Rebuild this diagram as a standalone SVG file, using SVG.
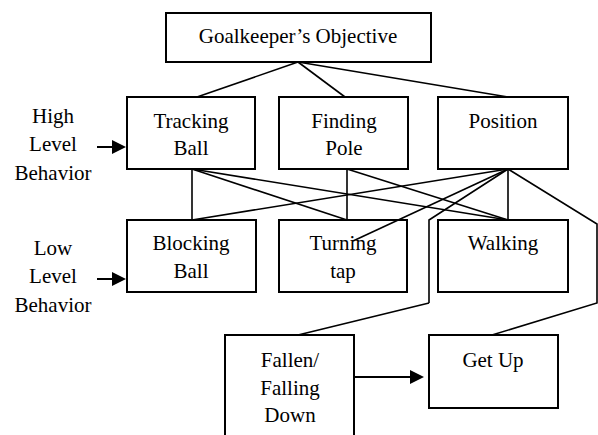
<svg xmlns="http://www.w3.org/2000/svg" width="598" height="435" viewBox="0 0 598 435">
  <style>
    .box { fill: #fff; stroke: #000; stroke-width: 2; }
    .lbl { font-family: 'Liberation Serif', serif !important; font-size: 21px; fill: #000; text-anchor: middle; }
    .wire { fill: none; stroke: #000; stroke-width: 1.6; }
    .arrow { fill: none; stroke: #000; stroke-width: 2; }
    .tip { fill: #000; stroke: none; }
  </style>

  <!-- connectors -->
  <g id="connectors">
    <!-- objective to high level behaviours -->
    <line class="wire" x1="298" y1="62" x2="197" y2="97"/>
    <line class="wire" x1="298" y1="62" x2="345" y2="97"/>
    <line class="wire" x1="298" y1="62" x2="508" y2="97"/>
    <!-- tracking ball -->
    <line class="wire" x1="192" y1="169" x2="192" y2="220"/>
    <line class="wire" x1="192" y1="169" x2="347" y2="220"/>
    <line class="wire" x1="192" y1="169" x2="508" y2="220"/>
    <!-- finding pole -->
    <line class="wire" x1="347" y1="169" x2="347" y2="220"/>
    <line class="wire" x1="347" y1="169" x2="508" y2="220"/>
    <!-- position -->
    <line class="wire" x1="508" y1="169" x2="192" y2="220"/>
    <line class="wire" x1="508" y1="169" x2="508" y2="220"/>
    <polyline class="wire" points="429,303 429,220 508,169"/>
    <polyline class="wire" points="508,169 597,224 597,303 492,335"/>
    <!-- level arrows -->
    <line class="arrow" x1="97" y1="147" x2="114" y2="147"/>
    <path class="tip" d="M112,140 L126,147 L112,154 Z"/>
    <line class="arrow" x1="97" y1="279" x2="114" y2="279"/>
    <path class="tip" d="M112,272 L126,279 L112,286 Z"/>
    <line class="arrow" x1="354" y1="377" x2="412" y2="377"/>
    <path class="tip" d="M410,370 L424,377 L410,384 Z"/>
  </g>

  <g id="objective">
    <rect class="box" x="166" y="13" width="265" height="49"/>
    <text class="lbl" x="298" y="43">Goalkeeper&#8217;s Objective</text>
  </g>

  <g id="tracking-ball">
    <rect class="box" x="127" y="97" width="128" height="72"/>
    <text class="lbl" x="191" y="128">Tracking</text>
    <text class="lbl" x="191" y="155">Ball</text>
  </g>

  <g id="finding-pole">
    <rect class="box" x="279" y="97" width="129" height="72"/>
    <text class="lbl" x="344" y="128">Finding</text>
    <text class="lbl" x="344" y="155">Pole</text>
  </g>

  <g id="position">
    <rect class="box" x="438" y="97" width="130" height="72"/>
    <text class="lbl" x="503" y="128">Position</text>
  </g>

  <g id="blocking-ball">
    <rect class="box" x="127" y="220" width="129" height="72"/>
    <text class="lbl" x="191" y="250">Blocking</text>
    <text class="lbl" x="191" y="278">Ball</text>
  </g>

  <g id="turning-tap">
    <rect class="box" x="279" y="220" width="128" height="72"/>
    <text class="lbl" x="343" y="250">Turning</text>
    <text class="lbl" x="343" y="278">tap</text>
    <!-- the Position link ends inside this box -->
    <line class="wire" x1="508" y1="169" x2="353" y2="241"/>
  </g>

  <g id="walking">
    <rect class="box" x="438" y="220" width="130" height="72"/>
    <text class="lbl" x="503" y="250">Walking</text>
  </g>

  <g id="fallen">
    <line class="wire" x1="429" y1="303" x2="298" y2="335"/>
    <rect class="box" x="225" y="335" width="129" height="110"/>
    <text class="lbl" x="290" y="367">Fallen/</text>
    <text class="lbl" x="290" y="395">Falling</text>
    <text class="lbl" x="290" y="422">Down</text>
  </g>

  <g id="get-up">
    <rect class="box" x="429" y="335" width="129" height="73"/>
    <text class="lbl" x="493" y="367">Get Up</text>
  </g>

  <g id="high-level">
    <text class="lbl" x="53" y="123">High</text>
    <text class="lbl" x="53" y="151">Level</text>
    <text class="lbl" x="53" y="180">Behavior</text>
  </g>

  <g id="low-level">
    <text class="lbl" x="53" y="255">Low</text>
    <text class="lbl" x="53" y="283">Level</text>
    <text class="lbl" x="53" y="312">Behavior</text>
  </g>
</svg>
